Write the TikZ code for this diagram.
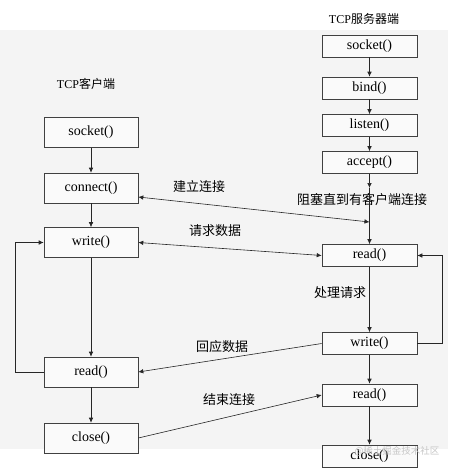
\documentclass[tikz,border=0pt]{standalone}
\usepackage{fontspec}
\setmainfont{Liberation Serif}
\newfontfamily\cjk{Noto Sans CJK SC}
\usetikzlibrary{arrows.meta}

\begin{document}
\begin{tikzpicture}[x=1pt,y=-1pt,
    cbox/.style={draw=black!75,line width=0.6pt,fill=white!60!gray!10,minimum width=94pt,minimum height=30pt,inner sep=0pt,font=\fontsize{14}{16}\selectfont},
    sbox/.style={draw=black!75,line width=0.6pt,fill=white!60!gray!10,minimum width=95pt,minimum height=22pt,inner sep=0pt,font=\fontsize{14}{16}\selectfont},
    lbl/.style={font=\fontsize{13}{15}\selectfont\cjk},
    flow/.style={draw=black!85,line width=0.6pt,-{Latex[length=5pt,width=4.5pt]}},
    both/.style={draw=black!85,line width=0.6pt,{Latex[length=5pt,width=4.5pt]}-{Latex[length=5pt,width=4.5pt]}}]
    \useasboundingbox (0,0) rectangle (451,469);
    \fill[gray!9] (0,30) rectangle (448,449);

    % titles
    \node (stitle) at (364,19) {\fontsize{12}{14}\selectfont TCP{\cjk 服务器端}};
    \node (ctitle) at (86,84) {\fontsize{12}{14}\selectfont TCP{\cjk 客户端}};

    % client side
    \node[cbox] (csocket) at (91,132.5) {socket()};
    \node[cbox] (cconnect) at (91,188) {connect()};
    \node[cbox] (cwrite) at (91,242.5) {write()};
    \node[cbox] (cread) at (91,372) {read()};
    \node[cbox] (cclose) at (91,438) {close()};

    % server side
    \node[sbox] (ssocket) at (369.5,46) {socket()};
    \node[sbox] (sbind) at (369.5,88) {bind()};
    \node[sbox] (slisten) at (369.5,125.5) {listen()};
    \node[sbox] (saccept) at (369.5,162.5) {accept()};
    \node[sbox] (sread) at (369.5,255.5) {read()};
    \node[sbox] (swrite) at (369.5,343.5) {write()};
    \node[sbox] (sreadb) at (369.5,395) {read()};
    \node[sbox] (sclose) at (369.5,456) {close()};
    \coordinate (block) at (369.5,188);
    \coordinate (meet) at (369.5,222);

    % labels
    \node[lbl] (lconn) at (199,187) {建立连接};
    \node[lbl] (lblock) at (362,200) {阻塞直到有客户端连接};
    \node[lbl] (lreq) at (215,231) {请求数据};
    \node[lbl] (lproc) at (340,293) {处理请求};
    \node[lbl] (lresp) at (222,347) {回应数据};
    \node[lbl] (lend) at (229,400) {结束连接};

    % client flow
    \draw[flow] (csocket) -- (cconnect);
    \draw[flow] (cconnect) -- (cwrite);
    \draw[flow] (cwrite) -- (cread);
    \draw[flow] (cread) -- (cclose);
    \draw[flow] (cread.west) -- ++(-28,0) |- (cwrite.west);

    % server flow
    \draw[flow] (ssocket) -- (sbind);
    \draw[flow] (sbind) -- (slisten);
    \draw[flow] (slisten) -- (saccept);
    \draw[flow] (saccept) -- (block);
    \draw[flow] (block) -- (sread);
    \draw[flow] (sread) -- (swrite);
    \draw[flow] (swrite) -- (sreadb);
    \draw[flow] (sreadb) -- (sclose);
    \draw[flow] (swrite.east) -- ++(25,0) |- (sread.east);

    % between client and server
    \draw[both] ([yshift=-9pt]cconnect.east) -- (meet);
    \draw[both] (cwrite.east) -- (sread.west);
    \draw[flow] (swrite.west) -- (cread.east);
    \draw[flow] (cclose.east) -- (sreadb.west);

    \node[text=gray!45,font=\fontsize{9.5}{11}\selectfont\cjk] (mark) at (397,451) {@稀土掘金技术社区};
\end{tikzpicture}
\end{document}
